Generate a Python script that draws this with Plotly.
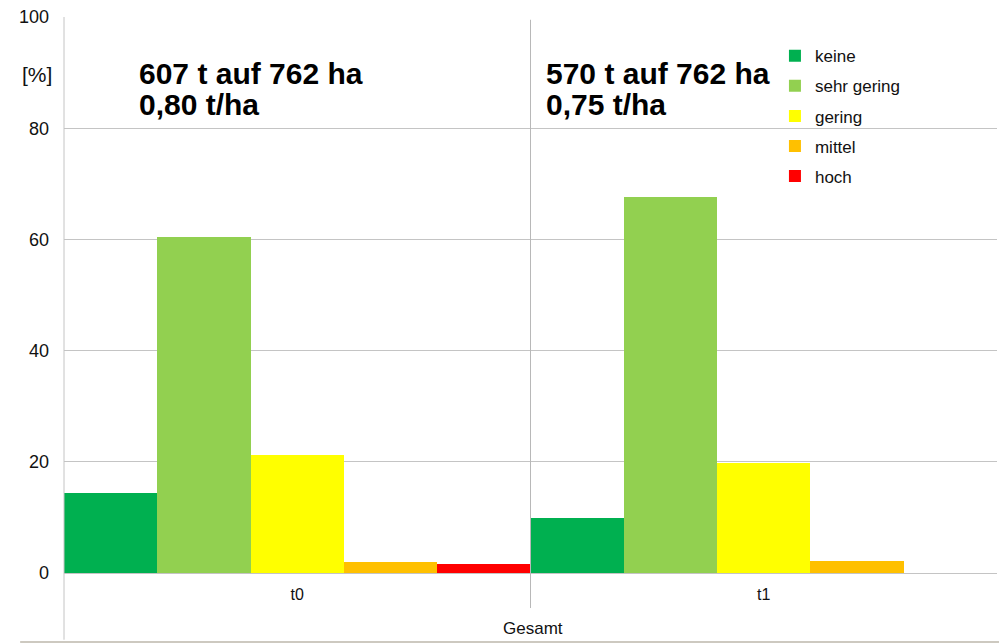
import plotly.graph_objects as go

categories = ["t0", "t1"]
series_names = ["keine", "sehr gering", "gering", "mittel", "hoch"]
series_colors = ["#00B050", "#92D050", "#FFFF00", "#FFC000", "#FF0000"]
keine = [14.4, 9.9]
sehr_gering = [60.4, 67.6]
gering = [21.2, 19.8]
mittel = [2.0, 2.2]
hoch = [1.6, 0.0]
values = [keine, sehr_gering, gering, mittel, hoch]
y_ticks = [0, 20, 40, 60, 80, 100]

FONT = "Liberation Sans, Arial, sans-serif"

fig = go.Figure()
for name, col, vals in zip(series_names, series_colors, values):
    fig.add_trace(go.Bar(x=categories, y=vals, name=name, marker_color=col,
                         marker_line_width=0, legendgroup=name))

fig.update_layout(
    width=999, height=644,
    margin=dict(l=64, r=2, t=17, b=71, autoexpand=False),
    paper_bgcolor="white", plot_bgcolor="white",
    barmode="group", bargap=0, bargroupgap=0,
    font=dict(family=FONT, color="#111111"),
    showlegend=True,
    legend=dict(x=0.762, y=0.962, xanchor="left", yanchor="top",
                bgcolor="rgba(0,0,0,0)", font=dict(size=17, family=FONT),
                traceorder="grouped", tracegroupgap=5, itemwidth=30),
    xaxis=dict(showgrid=False, showline=False, zeroline=False, ticks="",
               automargin=False,
               tickfont=dict(size=16, family=FONT), ticklabelstandoff=10),
    yaxis=dict(range=[0, 100], tickvals=y_ticks, showgrid=True, automargin=False,
               gridcolor="#c4c4c4", gridwidth=1, zeroline=True,
               zerolinecolor="#c4c4c4", zerolinewidth=1, showline=False,
               ticks="", tickfont=dict(size=18, family=FONT), ticklabelstandoff=14),
)

# frame lines
fig.add_shape(type="line", xref="paper", yref="paper", x0=0, x1=0, y0=-0.12, y1=1,
              line=dict(color="#c4c4c4", width=1))
fig.add_shape(type="line", xref="x", yref="paper", x0=0.5, x1=0.5, y0=-0.063, y1=0.995,
              line=dict(color="#b8b8b8", width=1))
fig.add_shape(type="line", xref="paper", yref="paper", x0=-0.047, x1=1.003, y0=-0.124, y1=-0.124,
              line=dict(color="#cdc9c0", width=2))

ann_font = dict(size=30, family=FONT, color="#000000")
fig.add_annotation(x=0.078, y=0.899, xref="paper", yref="paper", xanchor="left", yanchor="middle",
                   text="<b>607 t auf 762 ha</b>", showarrow=False, font=ann_font)
fig.add_annotation(x=0.078, y=0.843, xref="paper", yref="paper", xanchor="left", yanchor="middle",
                   text="<b>0,80 t/ha</b>", showarrow=False, font=ann_font)
fig.add_annotation(x=0.514, y=0.899, xref="paper", yref="paper", xanchor="left", yanchor="middle",
                   text="<b>570 t auf 762 ha</b>", showarrow=False, font=ann_font)
fig.add_annotation(x=0.514, y=0.843, xref="paper", yref="paper", xanchor="left", yanchor="middle",
                   text="<b>0,75 t/ha</b>", showarrow=False, font=ann_font)
fig.add_annotation(x=-0.029, y=0.896, xref="paper", yref="paper", xanchor="center", yanchor="middle",
                   text="[%]", showarrow=False, font=dict(size=21, family=FONT, color="#111111"))
fig.add_annotation(x=0.503, y=-0.099, xref="paper", yref="paper", xanchor="center", yanchor="middle",
                   text="Gesamt", showarrow=False, font=dict(size=17, family=FONT, color="#111111"))

post = ("document.body.style.margin='0';document.body.style.padding='0';"
        "document.body.style.overflow='hidden';"
        "var gd=document.getElementById('{plot_id}');"
        "Plotly.relayout(gd,{width:999,height:644});")
fig.write_html("out.html", post_script=post, config={"displayModeBar": False})
